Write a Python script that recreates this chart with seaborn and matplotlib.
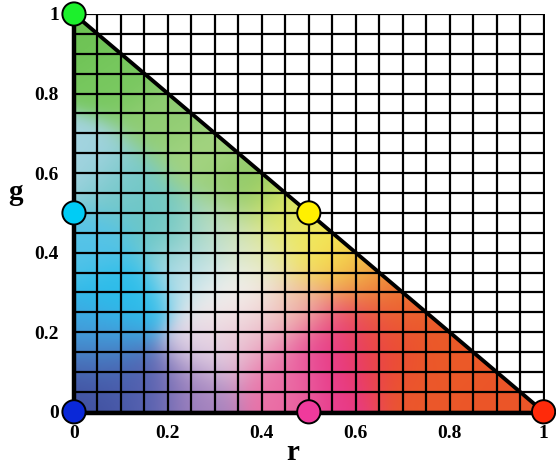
import numpy as np
import matplotlib
matplotlib.use("Agg")
import matplotlib.pyplot as plt
from matplotlib.patches import Polygon
import pandas as pd
import seaborn as sns

# Primary / secondary points on the rg chromaticity triangle
point_r = [0.0, 0.5, 1.0, 0.5, 0.0, 0.0]
point_g = [1.0, 0.5, 0.0, 0.0, 0.0, 0.5]
point_names = ["green", "yellow", "red", "magenta", "blue", "cyan"]
point_colors = ["#1cf02c", "#fff000", "#ff2a0a", "#f03a9c", "#0a28d8", "#00ccf5"]

# Boundary r + g = 1
edge_r = [0.0, 1.0]
edge_g = [1.0, 0.0]

tick_values = [0, 0.2, 0.4, 0.6, 0.8, 1]
tick_labels = ["0", "0.2", "0.4", "0.6", "0.8", "1"]

# Colour samples inside the triangle (r, g, colour)
sample_r = [0.02, 0.10, 0.20, 0.28, 0.36, 0.45, 0.50, 0.56, 0.62, 0.68, 0.80, 0.93,
            0.72, 0.65, 0.57, 0.56, 0.46, 0.40, 0.48, 0.34, 0.30, 0.26, 0.15, 0.03,
            0.05, 0.05, 0.10, 0.04, 0.02, 0.10, 0.20, 0.25, 0.40, 0.30,
            0.58, 0.52, 0.66, 0.44, 0.36]
sample_g = [0.95, 0.85, 0.74, 0.64, 0.56, 0.50, 0.44, 0.38, 0.33, 0.27, 0.15, 0.04,
            0.05, 0.12, 0.12, 0.03, 0.05, 0.18, 0.26, 0.30, 0.15, 0.05, 0.05, 0.03,
            0.12, 0.20, 0.30, 0.42, 0.62, 0.56, 0.46, 0.36, 0.40, 0.46,
            0.22, 0.14, 0.20, 0.10, 0.24]
sample_rgb = [(110, 195, 85), (120, 200, 95), (145, 205, 115), (165, 212, 130),
              (140, 200, 100), (220, 230, 100), (245, 235, 85), (245, 220, 80),
              (240, 160, 65), (236, 105, 45), (235, 90, 40), (235, 85, 40),
              (235, 88, 42), (236, 75, 50), (230, 45, 135), (232, 55, 140),
              (235, 110, 165), (235, 175, 195), (240, 195, 170), (246, 246, 242),
              (228, 215, 232), (165, 130, 190), (80, 95, 175), (65, 80, 160),
              (75, 105, 180), (65, 170, 228), (40, 190, 235), (85, 195, 232),
              (165, 212, 225), (115, 200, 200), (105, 198, 195), (185, 222, 232),
              (225, 232, 190), (200, 225, 200),
              (232, 60, 125), (232, 70, 150), (236, 80, 45), (236, 120, 170),
              (240, 225, 225)]

sns.set_theme(style="white")
plt.rcParams["font.family"] = ["Liberation Serif", "DejaVu Serif"]
plt.rcParams["font.weight"] = "bold"

fig = plt.figure(figsize=(5.56, 4.71), dpi=100)
ax = fig.add_axes([74 / 556, 1 - 413 / 471, 471 / 556, 399 / 471])

# Smooth colour field from the samples (Gaussian-weighted blend)
n = 400
rr, gg = np.meshgrid(np.linspace(0, 1, n), np.linspace(0, 1, n))
sr = np.array(sample_r)[:, None, None]
sg = np.array(sample_g)[:, None, None]
cols = np.array(sample_rgb, dtype=float) / 255.0
sigma = 0.055
w = np.exp(-((rr - sr) ** 2 + (gg - sg) ** 2) / (2 * sigma ** 2)) + 1e-12
w /= w.sum(axis=0, keepdims=True)
field = np.einsum("kij,kc->ijc", w, cols)
img = ax.imshow(np.clip(field, 0, 1), origin="lower", extent=[0, 1, 0, 1],
                interpolation="bilinear", zorder=0, aspect="auto")
tri = Polygon([[0, 0], [1, 0], [0, 1]], closed=True, transform=ax.transData)
img.set_clip_path(tri)

ax.set_xlim(0, 1.003)
ax.set_ylim(-0.003, 1.0)

# 0.05 grid
grid_ticks = np.round(np.arange(0, 1.0001, 0.05), 2)
ax.set_xticks(grid_ticks, minor=True)
ax.set_yticks(grid_ticks, minor=True)
ax.set_xticks(tick_values)
ax.set_yticks(tick_values)
ax.set_xticklabels(tick_labels)
ax.set_yticklabels(tick_labels)
ax.grid(True, which="both", color="black", linewidth=1.6, zorder=1)
ax.set_axisbelow(False)
ax.tick_params(which="both", length=0, labelsize=14, colors="black")
ax.tick_params(axis="x", pad=9)
ax.tick_params(axis="y", pad=11)
for lab in ax.get_xticklabels() + ax.get_yticklabels():
    lab.set_fontweight("bold")

for side in ["top", "right"]:
    ax.spines[side].set_visible(False)
for side in ["left", "bottom"]:
    ax.spines[side].set_color("black")
    ax.spines[side].set_linewidth(3.2)
    ax.spines[side].set_zorder(3)

sns.lineplot(x=edge_r, y=edge_g, ax=ax, color="black", linewidth=2.8,
             zorder=4, legend=False)

pts = pd.DataFrame({"r": point_r, "g": point_g, "name": point_names})
sns.scatterplot(data=pts, x="r", y="g", hue="name",
                palette=dict(zip(point_names, point_colors)),
                s=280, edgecolor="black", linewidth=1.4, ax=ax,
                zorder=5, clip_on=False, legend=False)

ax.set_xlabel("r", fontsize=21, fontweight="bold", color="black")
ax.set_ylabel("g", fontsize=21, fontweight="bold", rotation=0, color="black")
ax.yaxis.set_label_coords(-0.125, 0.52)
ax.xaxis.set_label_coords(0.465, -0.065)

fig.savefig("out.png", dpi=100)
